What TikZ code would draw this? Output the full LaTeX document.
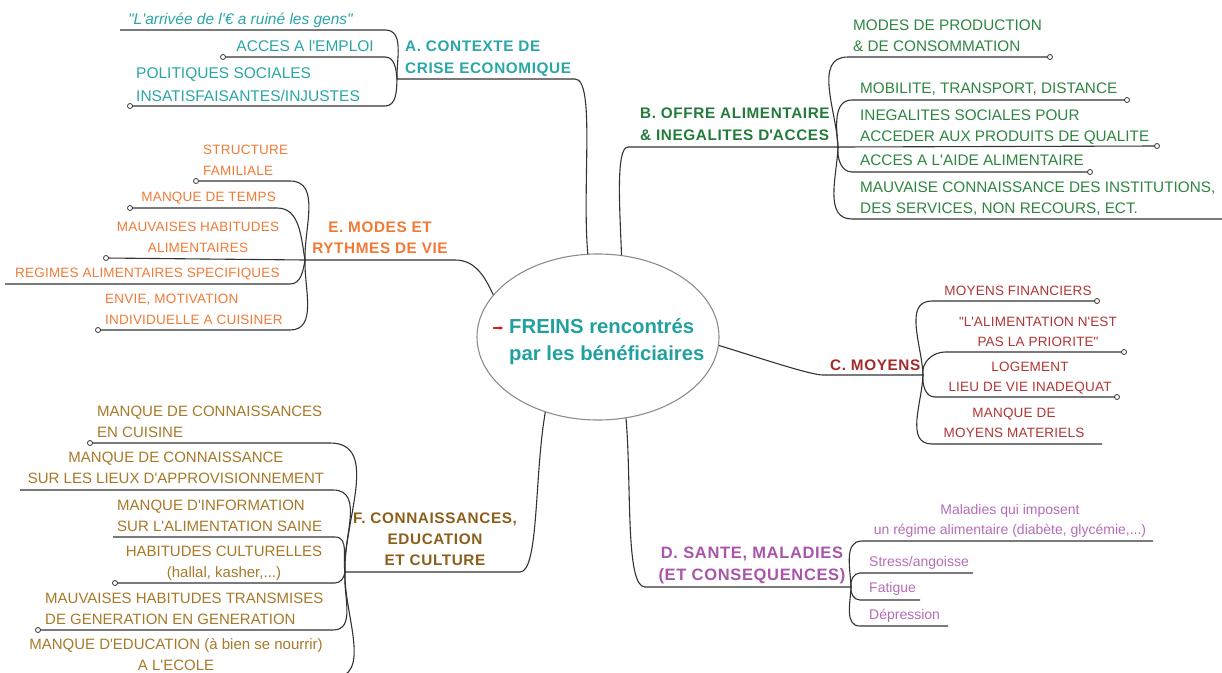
\documentclass[tikz,border=0pt]{standalone}
\usepackage{fontspec}
\setmainfont{Liberation Sans}
\newfontfamily\lsfont[LetterSpace=4]{Liberation Sans}
\newfontfamily\lsfontb[LetterSpace=1.5]{Liberation Sans}
\usetikzlibrary{shapes.geometric,arrows.meta}
\newcommand\sq{\textquotesingle}
\newcommand\dq{\textquotedbl}
\definecolor{lc}{HTML}{333333}
\definecolor{ellc}{HTML}{8C8C8C}
\definecolor{ctrc}{HTML}{22A0A0}
\definecolor{acol}{HTML}{2AA6A6}
\definecolor{bcol}{HTML}{237A3A}
\definecolor{bcolc}{HTML}{2E8540}
\definecolor{ccol}{HTML}{A52A2A}
\definecolor{ccolc}{HTML}{B03535}
\definecolor{dcol}{HTML}{A855AA}
\definecolor{dcolc}{HTML}{B56CB8}
\definecolor{ecol}{HTML}{F07A36}
\definecolor{fcol}{HTML}{8B5E1A}
\definecolor{fcolc}{HTML}{A87828}
\definecolor{arrc}{HTML}{D02020}
\begin{document}
\begin{tikzpicture}[x=1pt,y=-1pt,
  ln/.style={draw=lc,line width=1.1pt},
  enddot/.style={circle,draw=lc,fill=white,line width=0.8pt,inner sep=0pt,minimum size=5pt},
  tx/.style={inner sep=0pt},
  ttl/.style={tx,font=\lsfont\bfseries\fontsize{15.3}{#1}\selectfont},
  ttl/.default=22,
  atx/.style={tx,text=acol,font=\fontsize{15.5}{23}\selectfont},
  btx/.style={tx,text=bcolc,font=\fontsize{15.3}{21}\selectfont},
  ctx/.style={tx,text=ccolc,font=\lsfontb\fontsize{13.5}{20}\selectfont},
  dtx/.style={tx,text=dcolc,font=\fontsize{14}{20}\selectfont},
  etx/.style={tx,text=ecol,font=\lsfontb\fontsize{13.5}{21}\selectfont},
  ftx/.style={tx,text=fcolc,font=\fontsize{15}{21}\selectfont}]
\clip (0,0) rectangle (1222,672);

% centre
\node[ellipse,draw=ellc,line width=1.1pt,minimum width=242pt,minimum height=166pt,inner sep=0pt] (ctr) at (598,337) {};
\node[tx,anchor=north west,align=left,text=ctrc,font=\bfseries\fontsize{20.3}{27}\selectfont] (ctrtxt) at (509,318) {FREINS rencontrés\\par les bénéficiaires};
\coordinate (arrs) at (493,328);
\coordinate (arre) at (503,328);
\draw[arrc,line width=1.3pt,-{Stealth[length=3.5pt,width=4pt]}] (arrs) -- (arre);

% ---------- A
\coordinate (cA) at (575,79);
\coordinate (jA) at (397,79);
\draw[ln] (ctr.97) to[out=95,in=0,in looseness=0.3] (cA) -- (jA);
\node[ttl,text=acol,align=left,anchor=north west] (tA) at (405,41) {A. CONTEXTE DE\\CRISE ECONOMIQUE};
\coordinate (a1c) at (385,30); \coordinate (a1e) at (120,30);
\coordinate (a2c) at (385,57); \coordinate (a2e) at (223,57);
\coordinate (a3c) at (385,106); \coordinate (a3e) at (130,106);
\draw[ln] (jA) to[out=92,in=0] (a1c) -- (a1e);
\draw[ln] (jA) to[out=95,in=0] (a2c) -- (a2e);
\draw[ln] (jA) to[out=-92,in=0] (a3c) -- (a3e);
\node[enddot] (a2d) at (a2e) {};
\node[enddot] (a3d) at (a3e) {};
\node[atx,anchor=north west,font=\itshape\fontsize{15.5}{23}\selectfont] (a1) at (128,13) {\dq L\sq arrivée de l\sq€ a ruiné les gens\dq};
\node[atx,anchor=north east] (a2) at (374,40) {ACCES A l\sq EMPLOI};
\node[atx,anchor=north west,align=left] (a3) at (136,67) {POLITIQUES SOCIALES\\INSATISFAISANTES/INJUSTES};

% ---------- B
\coordinate (cB) at (628,147);
\coordinate (jB) at (838,147);
\draw[ln] (ctr.74) to[out=92,in=180,in looseness=0.3] (cB) -- (jB);
\node[ttl,text=bcol,align=left,anchor=north west] (tB) at (640,107.5) {B. OFFRE ALIMENTAIRE\\\& INEGALITES D\sq ACCES};
\coordinate (b1c) at (848,57); \coordinate (b1e) at (1050,57);
\coordinate (b2c) at (852,100); \coordinate (b2e) at (1127,100);
\coordinate (b3e) at (1157,146);
\coordinate (b4c) at (852,172); \coordinate (b4e) at (1090,172);
\coordinate (b5c) at (852,219); \coordinate (b5e) at (1225,219);
\draw[ln] (jB) to[out=92,in=180] (b1c) -- (b1e);
\draw[ln] (jB) to[out=95,in=180] (b2c) -- (b2e);
\draw[ln] (jB) -- (b3e);
\draw[ln] (jB) to[out=-95,in=180] (b4c) -- (b4e);
\draw[ln] (jB) to[out=-92,in=180] (b5c) -- (b5e);
\node[enddot] (b1d) at (b1e) {};
\node[enddot] (b2d) at (b2e) {};
\node[enddot] (b3d) at (b3e) {};
\node[enddot] (b4d) at (b4e) {};
\node[btx,anchor=north west,align=left] (b1) at (853,19.5) {MODES DE PRODUCTION\\\& DE CONSOMMATION};
\node[btx,anchor=north west] (b2) at (860,82.5) {MOBILITE, TRANSPORT, DISTANCE};
\node[btx,anchor=north west,align=left] (b3) at (860,109.5) {INEGALITES SOCIALES POUR\\ACCEDER AUX PRODUITS DE QUALITE};
\node[btx,anchor=north west] (b4) at (860,154.5) {ACCES A L\sq AIDE ALIMENTAIRE};
\node[btx,anchor=north west,align=left] (b5) at (860,181.5) {MAUVAISE CONNAISSANCE DES INSTITUTIONS,\\DES SERVICES, NON RECOURS, ECT.};

% ---------- C
\coordinate (cC) at (823,375);
\coordinate (jC) at (923,375);
\draw[ln] (ctr.-4) to[out=-17,in=180,in looseness=0.3] (cC) -- (jC);
\node[ttl,text=ccol,anchor=north west] (tC) at (830,359.5) {C. MOYENS};
\coordinate (c1c) at (932,301); \coordinate (c1e) at (1097,301);
\coordinate (c2c) at (945,352); \coordinate (c2e) at (1124,352);
\coordinate (c3c) at (935,397); \coordinate (c3e) at (1117,397);
\coordinate (c4c) at (932,444); \coordinate (c4e) at (1102,444);
\draw[ln] (jC) to[out=92,in=180] (c1c) -- (c1e);
\draw[ln] (jC) to[out=100,in=180] (c2c) -- (c2e);
\draw[ln] (jC) to[out=-95,in=180] (c3c) -- (c3e);
\draw[ln] (jC) to[out=-92,in=180] (c4c) -- (c4e);
\node[enddot] (c1d) at (c1e) {};
\node[enddot] (c2d) at (c2e) {};
\node[enddot] (c3d) at (c3e) {};
\node[ctx,anchor=north] (c1) at (1018,286) {MOYENS FINANCIERS};
\node[ctx,anchor=north,align=center] (c2) at (1038,317) {\dq L\sq ALIMENTATION N\sq EST\\PAS LA PRIORITE\dq};
\node[ctx,anchor=north,align=center] (c3) at (1030,362) {LOGEMENT\\LIEU DE VIE INADEQUAT};
\node[ctx,anchor=north,align=center] (c4) at (1014,408) {MANQUE DE\\MOYENS MATERIELS};

% ---------- D
\coordinate (cD) at (645,587);
\coordinate (jD) at (851,587);
\draw[ln] (ctr.-71) to[out=-85,in=180,in looseness=0.3] (cD) -- (jD);
\node[tx,text=dcol,align=center,anchor=north,font=\lsfont\bfseries\fontsize{16.5}{22}\selectfont] (tD) at (752,547) {D. SANTE, MALADIES\\(ET CONSEQUENCES)};
\coordinate (d1c) at (862,541); \coordinate (d1e) at (1153,541);
\coordinate (d2c) at (860,573); \coordinate (d2e) at (973,573);
\coordinate (d3c) at (860,600); \coordinate (d3e) at (920,600);
\coordinate (d4c) at (860,626); \coordinate (d4e) at (948,626);
\draw[ln] (jD) to[out=92,in=180] (d1c) -- (d1e);
\draw[ln] (jD) to[out=100,in=180] (d2c) -- (d2e);
\draw[ln] (jD) to[out=-100,in=180] (d3c) -- (d3e);
\draw[ln] (jD) to[out=-92,in=180] (d4c) -- (d4e);
\node[dtx,anchor=north,align=center] (d1) at (1010,504.5) {Maladies qui imposent\\un régime alimentaire (diabète, glycémie,...)};
\node[dtx,anchor=north west] (d2) at (869,556) {Stress/angoisse};
\node[dtx,anchor=north west] (d3) at (869,582) {Fatigue};
\node[dtx,anchor=north west] (d4) at (869,609) {Dépression};

% ---------- E
\coordinate (cE) at (455,260);
\coordinate (jE) at (305,260);
\draw[ln] (ctr.158) to[out=115,in=0] (cE) -- (jE);
\node[ttl=21,text=ecol,align=center,anchor=north] (tE) at (380,221.5) {E. MODES ET\\RYTHMES DE VIE};
\coordinate (e1c) at (290,181); \coordinate (e1e) at (196,181);
\coordinate (e2c) at (277,208); \coordinate (e2e) at (130,208);
\coordinate (e3e) at (106,258);
\coordinate (e4c) at (290,284); \coordinate (e4e) at (5,284);
\coordinate (e5c) at (290,330); \coordinate (e5e) at (98,330);
\draw[ln] (jE) to[out=92,in=0] (e1c) -- (e1e);
\draw[ln] (jE) to[out=100,in=0] (e2c) -- (e2e);
\draw[ln] (jE) -- (e3e);
\draw[ln] (jE) to[out=-100,in=0] (e4c) -- (e4e);
\draw[ln] (jE) to[out=-92,in=0] (e5c) -- (e5e);
\node[enddot] (e1d) at (e1e) {};
\node[enddot] (e2d) at (e2e) {};
\node[enddot] (e3d) at (e3e) {};
\node[enddot] (e5d) at (e5e) {};
\node[etx,anchor=north west,align=left] (e1) at (203,145) {STRUCTURE\\FAMILIALE};
\node[etx,anchor=north east] (e2) at (276,192) {MANQUE DE TEMPS};
\node[etx,anchor=north,align=center] (e3) at (198,222) {MAUVAISES HABITUDES\\ALIMENTAIRES};
\node[etx,anchor=north west] (e4) at (15,268) {REGIMES ALIMENTAIRES SPECIFIQUES};
\node[etx,anchor=north west,align=left] (e5) at (105,294) {ENVIE, MOTIVATION\\INDIVIDUELLE A CUISINER};

% ---------- F
\coordinate (cF) at (520,572);
\coordinate (jF) at (345,572);
\draw[ln] (ctr.235) to[out=-100,in=0,in looseness=0.3] (cF) -- (jF);
\node[ttl=21,text=fcol,align=center,anchor=north] (tF) at (435,512.5) {F. CONNAISSANCES,\\EDUCATION\\ET CULTURE};
\coordinate (f1c) at (330,443); \coordinate (f1e) at (90,443);
\coordinate (f2c) at (333,490); \coordinate (f2e) at (20,490);
\coordinate (f3c) at (335,537); \coordinate (f3e) at (113,537);
\coordinate (f4c) at (335,583); \coordinate (f4e) at (115,583);
\coordinate (f5c) at (333,630); \coordinate (f5e) at (38,630);
\coordinate (f6c) at (332,678); \coordinate (f6e) at (20,678);
\draw[ln] (jF) to[out=92,in=0] (f1c) -- (f1e);
\draw[ln] (jF) to[out=95,in=0] (f2c) -- (f2e);
\draw[ln] (jF) to[out=100,in=0] (f3c) -- (f3e);
\draw[ln] (jF) to[out=-100,in=0] (f4c) -- (f4e);
\draw[ln] (jF) to[out=-95,in=0] (f5c) -- (f5e);
\draw[ln] (jF) to[out=-92,in=0] (f6c) -- (f6e);
\node[enddot] (f1d) at (f1e) {};
\node[enddot] (f4d) at (f4e) {};
\node[enddot] (f5d) at (f5e) {};
\node[ftx,anchor=north west,align=left] (f1) at (97,405.5) {MANQUE DE CONNAISSANCES\\EN CUISINE};
\node[ftx,anchor=north,align=center] (f2) at (176,451.5) {MANQUE DE CONNAISSANCE\\SUR LES LIEUX D\sq APPROVISIONNEMENT};
\node[ftx,anchor=north west,align=left] (f3) at (117,499.5) {MANQUE D\sq INFORMATION\\SUR L\sq ALIMENTATION SAINE};
\node[ftx,anchor=north,align=center] (f4) at (224,545.5) {HABITUDES CULTURELLES\\(hallal, kasher,...)};
\node[ftx,anchor=north west,align=left] (f5) at (45,592.5) {MAUVAISES HABITUDES TRANSMISES\\DE GENERATION EN GENERATION};
\node[ftx,anchor=north,align=center] (f6) at (176,638) {MANQUE D\sq EDUCATION (à bien se nourrir)\\A L\sq ECOLE};
\end{tikzpicture}
\end{document}
